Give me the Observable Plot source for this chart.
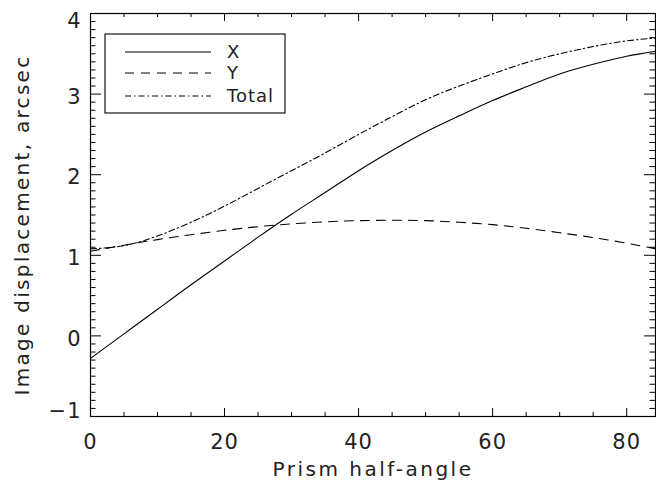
<!DOCTYPE html>
<html>
<head>
<meta charset="utf-8">
<script src="https://cdn.jsdelivr.net/npm/d3@7"></script>
<script src="https://cdn.jsdelivr.net/npm/@observablehq/plot@0.6"></script>
<style>
  html, body { margin: 0; padding: 0; background: #fff; }
  #chart svg { display: block; }
</style>
</head>
<body>
<div id="chart"></div>
<script>
// Data
const angles = [0, 5, 10, 15, 20, 25, 30, 35, 40, 45, 50, 55, 60, 65, 70, 75, 80, 85];
const xDisp  = [-0.28, 0.025, 0.33, 0.635, 0.93, 1.225, 1.51, 1.78, 2.05, 2.30, 2.53, 2.73, 2.92, 3.09, 3.25, 3.37, 3.47, 3.54];
const yDisp  = [1.05, 1.125, 1.195, 1.255, 1.31, 1.355, 1.39, 1.415, 1.43, 1.435, 1.43, 1.41, 1.38, 1.335, 1.28, 1.22, 1.15, 1.07];
const total  = [1.08, 1.12, 1.24, 1.41, 1.61, 1.83, 2.05, 2.27, 2.50, 2.72, 2.93, 3.10, 3.25, 3.39, 3.50, 3.59, 3.66, 3.70];
const seriesNames = ["X", "Y", "Total"];
const xMajor = [0, 20, 40, 60, 80];
const xMinor = [5, 10, 15, 25, 30, 35, 45, 50, 55, 65, 70, 75];
const yMajor = [-1, 0, 1, 2, 3, 4];
const yMinor = d3.range(-10, 41).map(d => d / 10).filter(d => !Number.isInteger(d));
const xTitle = "Prism half-angle";
const yTitle = "Image displacement, arcsec";

const W = 656, H = 482;
const mL = 90, mR = 1, mT = 13, mB = 66;
const pw = W - mL - mR, ph = H - mT - mB;
const FONT = "DejaVu Sans, sans-serif";
const ink = "#222";

const dashes = {X: null, Y: "9,7", Total: "6,3,1.5,3"};
const rows = (vals, name) => angles.map((a, i) => ({a, v: vals[i], s: name}));
const data = [...rows(xDisp, "X"), ...rows(yDisp, "Y"), ...rows(total, "Total")];
const fmtY = d => (d < 0 ? "\u2212" : "") + Math.abs(d);

const plot = Plot.plot({
  width: W, height: H,
  marginLeft: mL, marginRight: mR, marginTop: mT, marginBottom: mB,
  style: {fontFamily: FONT, color: ink, background: "white"},
  x: {domain: [0, 84.3]},
  y: {domain: [-1, 4]},
  marks: [
    // curves
    ...seriesNames.map(name => Plot.line(data.filter(d => d.s === name), {
      x: "a", y: "v", stroke: "black", strokeWidth: 1.1, curve: "natural",
      strokeDasharray: dashes[name], clip: true
    })),
    Plot.frame({stroke: "black", strokeWidth: 1.2}),
    // ticks, inward, on all four sides
    Plot.tickX(xMajor, {x: d => d, insetTop: ph - 8, stroke: "black"}),
    Plot.tickX(xMajor, {x: d => d, insetBottom: ph - 8, stroke: "black"}),
    Plot.tickX(xMinor, {x: d => d, insetTop: ph - 4, stroke: "black"}),
    Plot.tickX(xMinor, {x: d => d, insetBottom: ph - 4, stroke: "black"}),
    Plot.tickY(yMajor, {y: d => d, insetRight: pw - 11, stroke: "black"}),
    Plot.tickY(yMajor, {y: d => d, insetLeft: pw - 11, stroke: "black"}),
    Plot.tickY(yMinor, {y: d => d, insetRight: pw - 5.5, stroke: "black"}),
    Plot.tickY(yMinor, {y: d => d, insetLeft: pw - 5.5, stroke: "black"}),
    // tick labels
    Plot.axisX({ticks: xMajor, tickSize: 0, tickPadding: 18, label: null, fontSize: 21, fill: ink}),
    Plot.axisY({ticks: [0, 1, 2, 3], tickSize: 0, tickPadding: 9, label: null, fontSize: 21, fill: ink, dy: 3, tickFormat: fmtY}),
    Plot.axisY({ticks: [4], tickSize: 0, tickPadding: 9, label: null, fontSize: 21, fill: ink, dy: 8, tickFormat: fmtY}),
    Plot.axisY({ticks: [-1], tickSize: 0, tickPadding: 9, label: null, fontSize: 21, fill: ink, dy: -5, tickFormat: fmtY}),
    // axis titles
    Plot.text([xTitle], {text: d => d, frameAnchor: "bottom", lineAnchor: "middle", textAnchor: "middle", dy: 53, fontSize: 20, fill: ink}),
    Plot.text([yTitle], {text: d => d, frameAnchor: "left", lineAnchor: "middle", textAnchor: "middle", dx: -68, dy: 10, rotate: -90, fontSize: 20, fill: ink})
  ]
});

document.getElementById("chart").appendChild(plot);

// letter spacing to mimic the wide Hershey-like font
const svg = d3.select(plot);
svg.selectAll("text").attr("letter-spacing", "1");
svg.selectAll("text").filter(function() { return this.textContent === xTitle; }).attr("letter-spacing", "2.5");
svg.selectAll("text").filter(function() { return this.textContent === yTitle; }).attr("letter-spacing", "2.3");

// Legend box (drawn as an overlay inside the plot's svg)
const lg = svg.append("g").attr("font-family", FONT).attr("font-size", 18).attr("fill", ink)
  .attr("text-anchor", "start");
lg.append("rect").attr("x", 105).attr("y", 34).attr("width", 180).attr("height", 79)
  .attr("fill", "white").attr("stroke", "black").attr("stroke-width", 1.1);
const ly = [52, 73, 96];
seriesNames.forEach((name, i) => {
  lg.append("line").attr("x1", 125).attr("x2", 211).attr("y1", ly[i]).attr("y2", ly[i])
    .attr("stroke", "black").attr("stroke-width", 1.1)
    .attr("stroke-dasharray", dashes[name]);
  lg.append("text").attr("x", 227).attr("y", ly[i]).attr("dy", "0.36em")
    .attr("text-anchor", "start").attr("letter-spacing", "1").text(name);
});
</script>
</body>
</html>
